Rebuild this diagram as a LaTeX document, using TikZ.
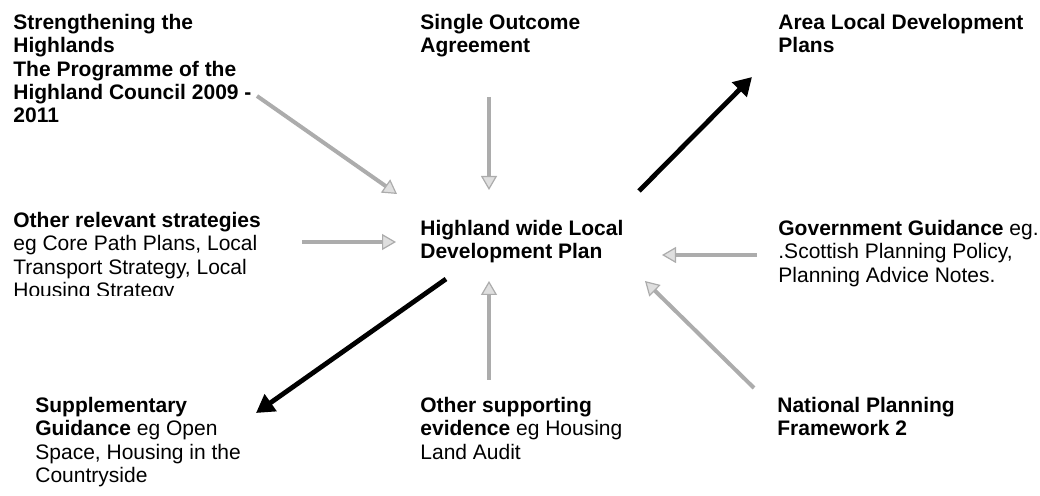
\documentclass[tikz,border=0pt]{standalone}
\usepackage{fontspec}
\setmainfont{Liberation Sans}
\usepackage{tikz}
\usetikzlibrary{arrows.meta}

\begin{document}
\begin{tikzpicture}[x=0.5pt,y=-0.5pt,
		txt/.style={anchor=north west,inner sep=0pt,align=left,
			font=\fontsize{10.5}{11.6}\selectfont},
		feed/.style={draw=gray!65,line width=2pt,
			-{Triangle[width=8pt,length=7pt,line width=0.6pt,fill=gray!25]}},
		lead/.style={draw=black,line width=2.4pt,
			-{Triangle[width=10pt,length=9pt]}}]
			\useasboundingbox (0,0) rectangle (1040,496);

			% texts
			\node[txt] (shp) at (13,14) {\textbf{Strengthening the}\\ \textbf{Highlands}\\ \textbf{The Programme of the}\\ \textbf{Highland Council 2009 -}\\ \textbf{2011}};
			\node[txt] (soa) at (420,14) {\textbf{Single Outcome}\\ \textbf{Agreement}};
			\node[txt] (aldp) at (778,14) {\textbf{Area Local Development}\\ \textbf{Plans}};
			\begin{scope}
				\clip (0,200) rectangle (300,296);
				\node[txt] (ors) at (13,212) {\textbf{Other relevant strategies}\\ eg Core Path Plans, Local\\ Transport Strategy, Local\\ Housing Strategy};
			\end{scope}
			\node[txt] (hwldp) at (420,220) {\textbf{Highland wide Local}\\ \textbf{Development Plan}};
			\node[txt] (gg) at (778,220) {\textbf{Government Guidance} eg.\\ .Scottish Planning Policy,\\ Planning Advice Notes.};
			\node[txt] (sg) at (35,397) {\textbf{Supplementary}\\ \textbf{Guidance} eg Open\\ Space, Housing in the\\ Countryside};
			\node[txt] (ose) at (420,397) {\textbf{Other supporting}\\ \textbf{evidence} eg Housing\\ Land Audit};
			\node[txt] (npf) at (777,397) {\textbf{National Planning}\\ \textbf{Framework 2}};

			% arrow ends
			\coordinate (shp-e) at (257,96);
			\coordinate (shp-t) at (397,194);
			\coordinate (soa-e) at (489,97);
			\coordinate (soa-t) at (489,190);
			\coordinate (aldp-e) at (639,191);
			\coordinate (aldp-t) at (752,77);
			\coordinate (ors-e) at (302,242);
			\coordinate (ors-t) at (396,242);
			\coordinate (gg-e) at (757,255);
			\coordinate (gg-t) at (662,255);
			\coordinate (sg-e) at (446,279);
			\coordinate (sg-t) at (256,413);
			\coordinate (ose-e) at (489,380);
			\coordinate (ose-t) at (489,281);
			\coordinate (npf-e) at (754,388);
			\coordinate (npf-t) at (645,281);

			\draw[feed] (shp-e) -- (shp-t);
			\draw[feed] (soa-e) -- (soa-t);
			\draw[feed] (ors-e) -- (ors-t);
			\draw[feed] (gg-e) -- (gg-t);
			\draw[feed] (ose-e) -- (ose-t);
			\draw[feed] (npf-e) -- (npf-t);
			\draw[lead] (aldp-e) -- (aldp-t);
			\draw[lead] (sg-e) -- (sg-t);
		\end{tikzpicture}
\end{document}
